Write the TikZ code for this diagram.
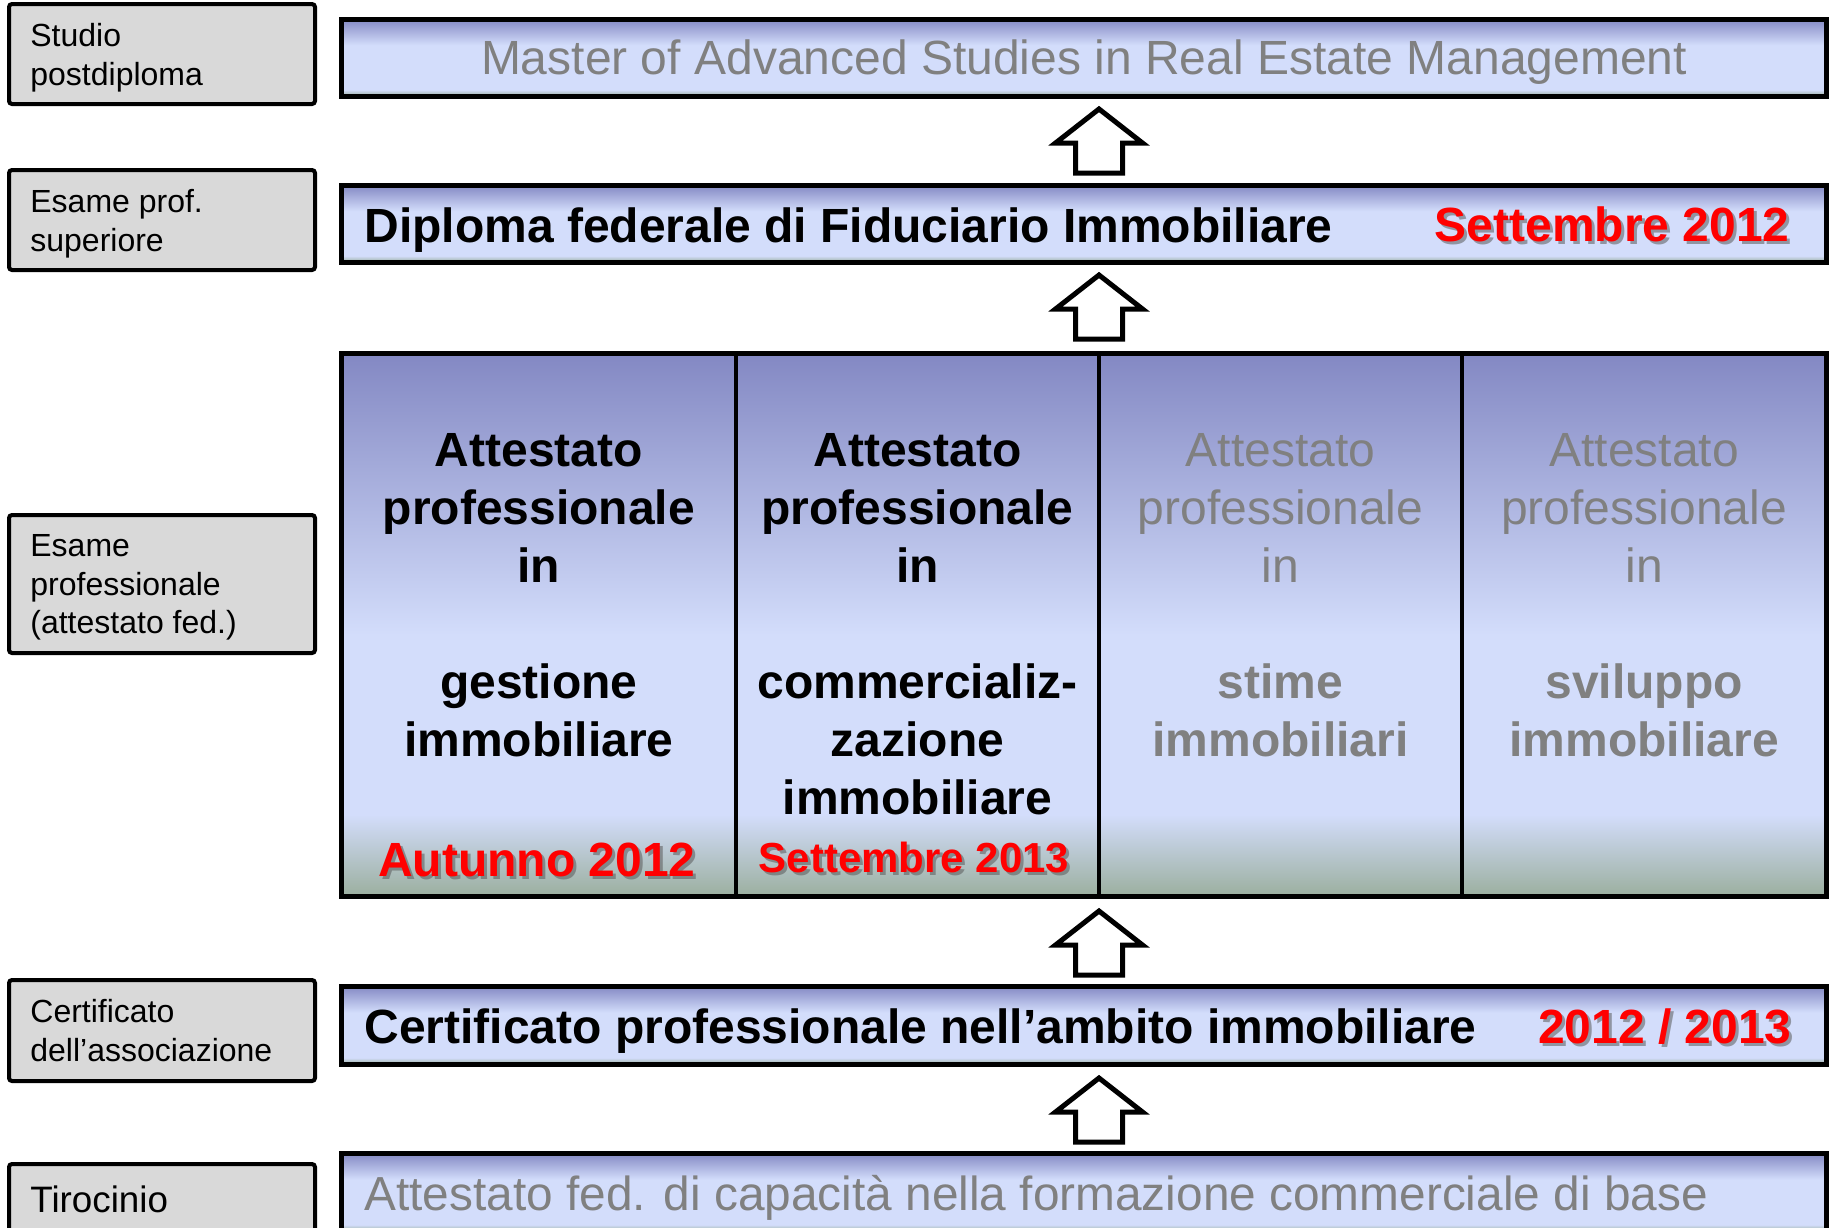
\documentclass[tikz,border=0pt]{standalone}
\usepackage{fontspec}
\setmainfont{Liberation Sans}
\usetikzlibrary{calc}
\definecolor{bardark}{HTML}{8388C3}
\definecolor{barlight}{HTML}{D3DDFB}
\definecolor{bandgreen}{HTML}{9BAF9F}
\definecolor{boxgray}{HTML}{D9D9D9}
\definecolor{txtgray}{HTML}{808080}
\definecolor{datered}{HTML}{FF0000}
\definecolor{shadowcol}{HTML}{5A5A5A}
\pgfdeclareverticalshading{barshade}{100bp}{color(0bp)=(bandgreen); color(25bp)=(bandgreen); color(29bp)=(barlight); color(58bp)=(barlight); color(75bp)=(bardark); color(100bp)=(bardark)}
\pgfdeclareverticalshading{colshade}{100bp}{color(0bp)=(bandgreen); color(25bp)=(bandgreen); color(32.5bp)=(barlight); color(49bp)=(barlight); color(75bp)=(bardark); color(100bp)=(bardark)}
\begin{document}
\begin{tikzpicture}[x=0.5pt,y=-0.5pt,
  sidebox/.style={draw, line width=2pt, fill=boxgray, rounded corners=1.5pt,
    minimum width=153pt, inner sep=0pt},
  sidetext/.style={anchor=west, align=left, inner sep=0pt,
    font=\fontsize{16}{19.3}\selectfont},
  bar/.style={draw, line width=2.5pt, shading=barshade, minimum width=742.25pt,
    inner sep=0pt, outer sep=0pt},
  col/.style={draw, line width=2pt, shading=colshade, minimum height=271.5pt,
    inner sep=0pt, outer sep=0pt},
  bigreg/.style={font=\fontsize{24}{29}\selectfont, inner sep=0pt},
  bigbold/.style={font=\bfseries\fontsize{24}{29}\selectfont, inner sep=0pt},
  coltext/.style={align=center, inner sep=0pt},
  redtxt/.style={text=datered, inner sep=0pt},
  shadowtxt/.style={text=shadowcol, opacity=0.55, inner sep=0pt},
  uparrow/.pic={\draw[line width=2.5pt, fill=white, line join=miter]
    (-23.5,0) -- (-23.5,-30) -- (-43.5,-30) -- (0,-64) -- (43.5,-30) -- (23.5,-30) -- (23.5,0) -- cycle;}
]
\useasboundingbox (0,0) rectangle (1834,1227);

% side boxes
\node[sidebox, minimum height=50pt] (s1) at (162,54) {};
\node[sidebox, minimum height=50pt] (s2) at (162,220) {};
\node[sidebox, minimum height=69pt] (s3) at (162,584) {};
\node[sidebox, minimum height=50.5pt] (s4) at (162,1030.5) {};
\node[sidebox, minimum height=35pt] (s5) at (162,1199) {};
\node[sidetext, xshift=11.5pt, yshift=-1.75pt] (s1t) at (s1.west) {Studio\\postdiploma};
\node[sidetext, xshift=11.5pt, yshift=-1.75pt] (s2t) at (s2.west) {Esame prof.\\superiore};
\node[sidetext, xshift=11.5pt, yshift=-1.75pt] (s3t) at (s3.west) {Esame\\professionale\\(attestato fed.)};
\node[sidetext, xshift=11.5pt] (s4t) at (s4.west) {Certificato\\dell’associazione};
\node[sidetext, xshift=11.5pt, font=\fontsize{18.4}{22}\selectfont] (s5t) at (s5.west) {Tirocinio};

% bars
\node[bar, minimum height=38.5pt] (master) at (1083.75,57.5) {};
\node[bar, minimum height=38.5pt] (dip) at (1083.75,223.5) {};
\node[bar, minimum height=39pt] (cert) at (1083.75,1025) {};
\node[bar, minimum height=39pt] (base) at (1083.75,1192) {};

% columns
\node[col, minimum width=197.25pt] (c1) at (538.75,624.5) {};
\node[col, minimum width=181.5pt] (c2) at (917.5,624.5) {};
\node[col, minimum width=181.5pt] (c3) at (1280.5,624.5) {};
\node[col, minimum width=182pt] (c4) at (1644,624.5) {};
\draw[line width=2.5pt] (c1.north west) rectangle (c4.south east);

% bar texts
\node[bigreg, text=txtgray, anchor=base] (mastertxt) at (1084,74) {Master of Advanced Studies in Real Estate Management};
\node[bigbold, anchor=base west] (diptxt) at (364,242) {Diploma federale di Fiduciario Immobiliare};
\node[bigbold, shadowtxt, anchor=base east] (dipdateS) at (1793,244) {Settembre 2012};
\node[bigbold, redtxt, anchor=base east] (dipdate) at (1790,241) {Settembre 2012};
\node[bigbold, anchor=base west] (certtxt) at (364,1043) {Certificato professionale nell’ambito immobiliare};
\node[bigbold, shadowtxt, anchor=base east] (certdateS) at (1795,1046) {2012 / 2013};
\node[bigbold, redtxt, anchor=base east] (certdate) at (1792,1043) {2012 / 2013};
\node[bigreg, text=txtgray, anchor=base west, font=\fontsize{23.9}{29}\selectfont] (basetxt) at (364,1210) {Attestato fed. di capacità nella formazione commerciale di base};

% column texts
\node[bigbold, coltext, anchor=north] (t1) at (538.75,433) {Attestato\\professionale\\in\\[29pt]gestione\\immobiliare};
\node[bigbold, coltext, anchor=north] (t2) at (917.5,433) {Attestato\\professionale\\in\\[29pt]commercializ-\\zazione\\immobiliare};
\node[bigreg, coltext, text=txtgray, anchor=north] (t3) at (1280.5,433) {Attestato\\professionale\\in\\[29pt]\textbf{stime}\\\textbf{immobiliari}};
\node[bigreg, coltext, text=txtgray, anchor=north] (t4) at (1644,433) {Attestato\\professionale\\in\\[29pt]\textbf{sviluppo}\\\textbf{immobiliare}};

% dates in columns
\node[bigbold, shadowtxt, anchor=base] (d1S) at (540,879) {Autunno 2012};
\node[bigbold, redtxt, anchor=base] (d1) at (537,876) {Autunno 2012};
\node[shadowtxt, font=\bfseries\fontsize{21}{25}\selectfont, anchor=base] (d2S) at (917,875) {Settembre 2013};
\node[redtxt, font=\bfseries\fontsize{21}{25}\selectfont, anchor=base] (d2) at (914,872) {Settembre 2013};

% block arrows
\pic at ([yshift=6pt]c2.east |- dip.north) {uparrow};
\pic at ([yshift=7pt]c2.east |- c1.north) {uparrow};
\pic at ([yshift=5.5pt]c2.east |- cert.north) {uparrow};
\pic at ([yshift=5.5pt]c2.east |- base.north) {uparrow};
\end{tikzpicture}
\end{document}
